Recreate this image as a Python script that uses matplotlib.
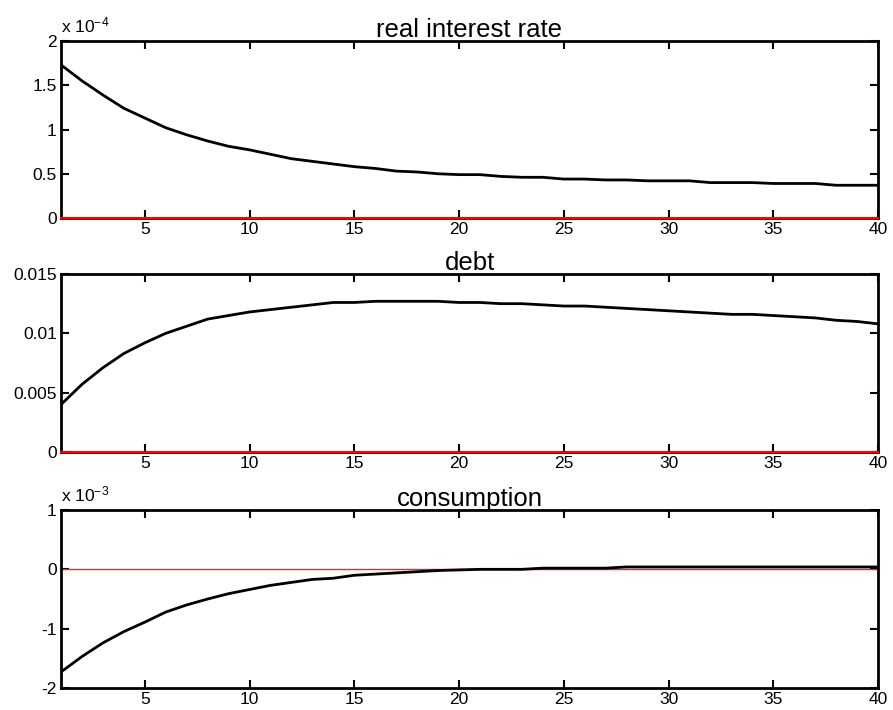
import matplotlib
matplotlib.use("Agg")
import matplotlib.pyplot as plt
import numpy as np

plt.rcParams['font.family'] = ['Liberation Sans', 'DejaVu Sans']
plt.rcParams['mathtext.fontset'] = 'custom'
plt.rcParams['mathtext.rm'] = 'Liberation Sans'
plt.rcParams['mathtext.it'] = 'Liberation Sans'

periods = list(range(1, 41))
# real interest rate, in units of 1e-4
rate = [1.73, 1.55, 1.39, 1.24, 1.13, 1.02, 0.94, 0.87, 0.81, 0.77,
        0.72, 0.67, 0.64, 0.61, 0.58, 0.56, 0.53, 0.52, 0.50, 0.49,
        0.49, 0.47, 0.46, 0.46, 0.44, 0.44, 0.43, 0.43, 0.42, 0.42,
        0.42, 0.40, 0.40, 0.40, 0.39, 0.39, 0.39, 0.37, 0.37, 0.37]
debt = [0.0040, 0.0057, 0.0071, 0.0083, 0.0092, 0.0100, 0.0106, 0.0112, 0.0115, 0.0118,
        0.0120, 0.0122, 0.0124, 0.0126, 0.0126, 0.0127, 0.0127, 0.0127, 0.0127, 0.0126,
        0.0126, 0.0125, 0.0125, 0.0124, 0.0123, 0.0123, 0.0122, 0.0121, 0.0120, 0.0119,
        0.0118, 0.0117, 0.0116, 0.0116, 0.0115, 0.0114, 0.0113, 0.0111, 0.0110, 0.0108]
# consumption, in units of 1e-3
cons = [-1.73, -1.47, -1.24, -1.05, -0.89, -0.72, -0.60, -0.50, -0.41, -0.34,
        -0.27, -0.22, -0.17, -0.15, -0.10, -0.08, -0.06, -0.04, -0.02, -0.01,
        0.00, 0.00, 0.00, 0.02, 0.02, 0.02, 0.02, 0.04, 0.04, 0.04,
        0.04, 0.04, 0.04, 0.04, 0.04, 0.04, 0.04, 0.04, 0.04, 0.04]

titles = ["real interest rate", "debt", "consumption"]
series = [rate, debt, cons]
ylims = [(0, 2), (0, 0.015), (-2, 1)]
yticks = [[0, 0.5, 1, 1.5, 2], [0, 0.005, 0.01, 0.015], [-2, -1, 0, 1]]
yticklabels = [["0", "0.5", "1", "1.5", "2"], ["0", "0.005", "0.01", "0.015"], ["-2", "-1", "0", "1"]]
offsets = ["x 10$^{\\mathregular{-4}}$", None, "x 10$^{\\mathregular{-3}}$"]
xticks = [5, 10, 15, 20, 25, 30, 35, 40]

W, H = 893, 710
fig = plt.figure(figsize=(W / 100, H / 100), dpi=100)
boxes = [(41, 218), (274, 452), (510, 688)]
left, right = 61, 878
for i, (t, b) in enumerate(boxes):
    ax = fig.add_axes([left / W, 1 - b / H, (right - left) / W, (b - t) / H])
    ax.plot(periods, series[i], color='black', lw=2.0, zorder=3)
    if i < 2:
        ax.axhline(0, color='red', lw=1.6, zorder=5, clip_on=False)
    else:
        ax.axhline(0, color='#ff2020', lw=1.0, zorder=2)
    ax.set_xlim(1, 40)
    ax.set_ylim(*ylims[i])
    ax.set_xticks(xticks)
    ax.set_xticklabels([str(x) for x in xticks])
    ax.set_yticks(yticks[i])
    ax.set_yticklabels(yticklabels[i])
    ax.tick_params(direction='in', top=True, right=True, length=6, width=1.5,
                   labelsize=12.5, pad=3)
    for s in ax.spines.values():
        s.set_linewidth(2.0)
    ax.set_title(titles[i], fontsize=18.5, pad=3)
    if offsets[i]:
        ax.text(0.0, 1.03, offsets[i], transform=ax.transAxes, fontsize=12.5,
                ha='left', va='bottom')

fig.savefig("out.png", dpi=100)
